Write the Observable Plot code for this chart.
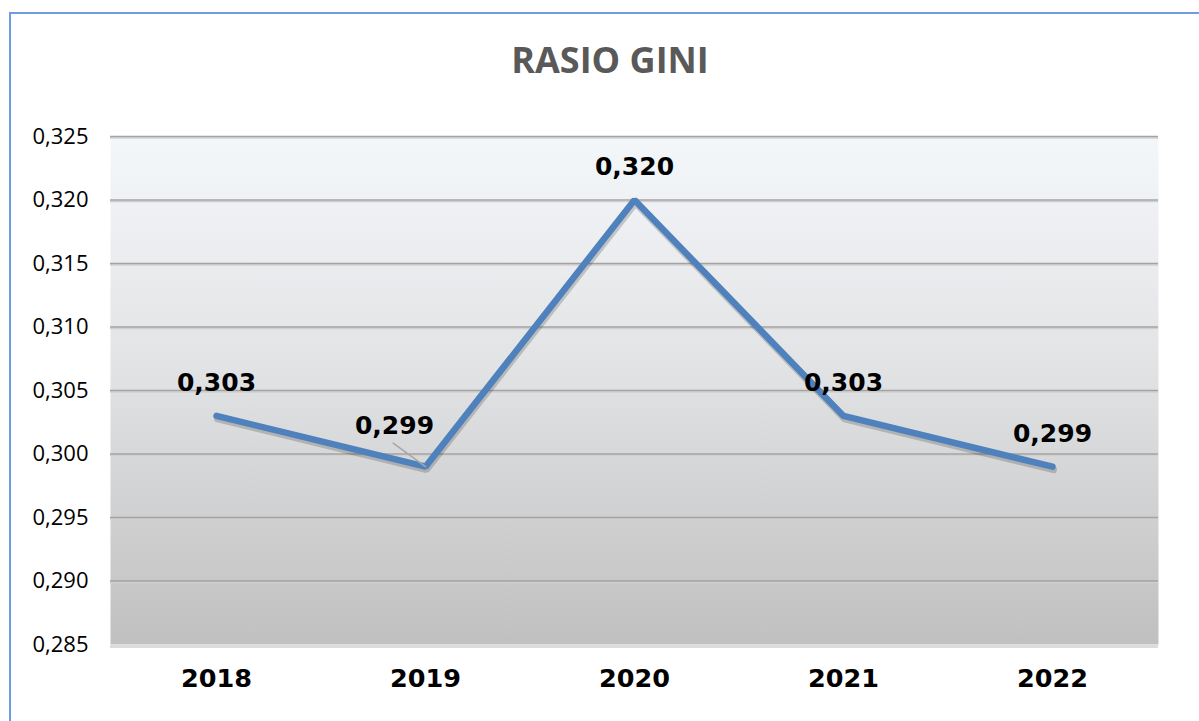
<!DOCTYPE html>
<html>
<head>
<meta charset="utf-8">
<script src="https://cdn.jsdelivr.net/npm/d3@7"></script>
<script src="https://cdn.jsdelivr.net/npm/@observablehq/plot@0.6"></script>
<style>
  html, body { margin: 0; padding: 0; background: #fff; overflow: hidden; }
  #wrap { position: relative; width: 1199px; height: 721px; }
  #border { position: absolute; left: 9px; top: 12px; width: 1400px; height: 900px;
            border-left: 2px solid #6f9be0; border-top: 2px solid #6f9be0; box-sizing: border-box; }
  #title { position: absolute; left: 0; top: 40px; width: 1220px; text-align: center;
           font-family: "Open Sans", sans-serif; font-weight: 700; font-size: 36px; line-height: 40px;
           color: #595959; }
  #chart { position: absolute; left: 0; top: 120px; }
</style>
</head>
<body>
<div id="wrap">
  <div id="border"></div>
  <div id="title">RASIO GINI</div>
  <div id="chart"></div>
</div>
<script>
const years = ["2018", "2019", "2020", "2021", "2022"];
const gini = [0.303, 0.299, 0.320, 0.303, 0.299];
const yTicks = [0.285, 0.290, 0.295, 0.300, 0.305, 0.310, 0.315, 0.320, 0.325];

const data = years.map((y, i) => ({year: y, value: gini[i]}));
const fmt = v => d3.format(".3f")(v).replace(".", ",");

const plot = Plot.plot({
  width: 1199,
  height: 601,
  marginTop: 16,
  marginBottom: 77,
  marginLeft: 110,
  marginRight: 41,
  style: {background: "transparent", overflow: "visible"},
  x: {type: "point", domain: years, padding: 0.5, label: null},
  y: {domain: [0.285, 0.325], ticks: yTicks, label: null},
  marks: [
    Plot.frame({fill: "url(#bgGrad)", stroke: "none"}),
    Plot.ruleY([0.285], {stroke: "#dcdcdc", strokeWidth: 3, dy: 2}),
    Plot.ruleY(yTicks.filter(t => t > 0.285), {stroke: "#d0d0d0", strokeWidth: 1.5, dy: 1.5}),
    Plot.ruleY(yTicks.filter(t => t > 0.285), {stroke: "#a3a3a3", strokeWidth: 1.5}),
    Plot.axisY({ticks: yTicks, tickFormat: fmt, tickSize: 0, tickPadding: 22,
      fontSize: 22, fontFamily: "Open Sans", fill: "#000"}),
    Plot.axisX({tickSize: 0, tickPadding: 24, fontSize: 25.5, fontFamily: "DejaVu Sans",
      fontWeight: "bold", fill: "#000"}),
    Plot.line(data, {x: "year", y: "value", stroke: "#000", strokeOpacity: 0.18,
      strokeWidth: 7, dx: 1, dy: 3, strokeLinejoin: "miter"}),
    Plot.line(data, {x: "year", y: "value", stroke: "#4f81bd", strokeWidth: 6.5,
      strokeLinejoin: "miter"}),
    Plot.vector(data.filter(d => d.year === "2019"), {x: "year", y: "value", anchor: "start",
      length: 40, rotate: -54, stroke: "#a6a6a6", strokeWidth: 1.5,
      shape: {draw(context, l) { context.moveTo(0, 0); context.lineTo(0, -l); }}}),
    Plot.text(data.filter(d => d.year !== "2019"), {x: "year", y: "value", text: d => fmt(d.value),
      dy: -33, fontSize: 25, fontWeight: "bold", fontFamily: "DejaVu Sans", fill: "#000"}),
    Plot.text(data.filter(d => d.year === "2019"), {x: "year", y: "value", text: d => fmt(d.value),
      dx: -31, dy: -41, fontSize: 25, fontWeight: "bold", fontFamily: "DejaVu Sans", fill: "#000"})
  ]
});

const svg = d3.select(plot);
const defs = svg.insert("defs", ":first-child");
const g = defs.append("linearGradient").attr("id", "bgGrad")
  .attr("x1", 0).attr("y1", 0).attr("x2", 0).attr("y2", 1);
g.append("stop").attr("offset", "0%").attr("stop-color", "#f4f7fa");
g.append("stop").attr("offset", "45%").attr("stop-color", "#e2e3e5");
g.append("stop").attr("offset", "100%").attr("stop-color", "#c0c0c0");

document.getElementById("chart").appendChild(plot);
</script>
</body>
</html>
